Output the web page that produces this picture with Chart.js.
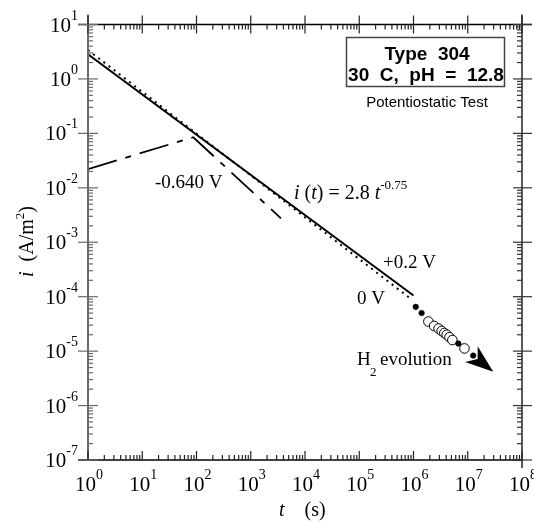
<!DOCTYPE html>
<html>
<head>
<meta charset="utf-8">
<script src="https://cdn.jsdelivr.net/npm/chart.js@4.4.1/dist/chart.umd.min.js"></script>
<style>
    html, body { margin: 0; padding: 0; background: #fff; }
</style>
</head>
<body>
<canvas id="chart" width="534" height="522"></canvas>
<script>
// tick decades
const xExponents = [0, 1, 2, 3, 4, 5, 6, 7, 8];
const yExponents = [-7, -6, -5, -4, -3, -2, -1, 0, 1];
const minorMultiples = [2, 3, 4, 5, 6, 7, 8, 9];

// +0.2 V  (fit i(t) = 2.8 t^-0.75)
const plusTime = [1, 1e6];
const plusCurrent = [2.83, 1.05e-4];

// 0 V
const zeroTime = [1, 8.7e5];
const zeroCurrent = [3.4, 9.3e-5];

// -0.640 V
const minusTime = [1, 87, 3.6e3];
const minusCurrent = [0.022, 0.085, 2.75e-3];

// long term points (H2 evolution)
const filledTime = [1.1e6, 1.41e6, 6.7e6, 1.26e7];
const filledCurrent = [6.5e-5, 5.0e-5, 1.38e-5, 8.3e-6];
const openTime = [1.88e6, 2.4e6, 2.9e6, 3.3e6, 3.7e6, 4.1e6, 4.6e6, 5.2e6, 8.7e6];
const openCurrent = [3.5e-5, 2.9e-5, 2.6e-5, 2.35e-5, 2.15e-5, 2.0e-5, 1.8e-5, 1.6e-5, 1.12e-5];

// arrow
const arrowTail = [1.3e7, 8.1e-6];
const arrowTip = [2.95e7, 4.2e-6];

const SERIF = '"Liberation Serif", "Times New Roman", serif';
const SANS = '"Liberation Sans", Arial, sans-serif';

function toPoints(xs, ys) {
    return xs.map((v, i) => ({ x: v, y: ys[i] }));
}

function buildLogTicks(exponents) {
    const ticks = [];
    exponents.forEach((e, i) => {
        ticks.push({ value: Math.pow(10, e), major: true });
        if (i < exponents.length - 1) {
            minorMultiples.forEach(m => ticks.push({ value: m * Math.pow(10, e), major: false }));
        }
    });
    return ticks;
}

// draw a row of text pieces (for superscripts / italics)
function drawRuns(ctx, runs, x, y, align) {
    let total = 0;
    runs.forEach(r => {
        ctx.font = r.font;
        r.w = ctx.measureText(r.text).width;
        total += r.w;
    });
    let cx = x;
    if (align === 'center') cx = x - total / 2;
    if (align === 'right') cx = x - total;
    runs.forEach(r => {
        ctx.font = r.font;
        ctx.fillText(r.text, cx, y + (r.dy || 0));
        cx += r.w;
    });
}

function line(ctx, x1, y1, x2, y2) {
    ctx.beginPath();
    ctx.moveTo(x1, y1);
    ctx.lineTo(x2, y2);
    ctx.stroke();
}

const framePlugin = {
    id: 'framePlugin',
    afterDraw(chart) {
        const ctx = chart.ctx;
        const xs = chart.scales.x;
        const ys = chart.scales.y;
        const left = xs.getPixelForValue(xs.min);
        const right = xs.getPixelForValue(xs.max);
        const top = ys.getPixelForValue(ys.max);
        const bottom = ys.getPixelForValue(ys.min);

        ctx.save();
        ctx.textAlign = 'left';
        ctx.textBaseline = 'alphabetic';
        ctx.fillStyle = '#000';

        // arrow for H2 evolution
        const ax = xs.getPixelForValue(arrowTip[0]);
        const ay = ys.getPixelForValue(arrowTip[1]);
        const bx = xs.getPixelForValue(arrowTail[0]);
        const by = ys.getPixelForValue(arrowTail[1]);
        const ang = Math.atan2(ay - by, ax - bx);
        ctx.save();
        ctx.translate(ax, ay);
        ctx.rotate(ang);
        ctx.beginPath();
        ctx.moveTo(0, 0);
        ctx.lineTo(-28, -10);
        ctx.lineTo(-20, 0);
        ctx.lineTo(-28, 10);
        ctx.closePath();
        ctx.fill();
        ctx.restore();

        // axes lines
        ctx.lineCap = 'butt';
        ctx.strokeStyle = '#000';
        ctx.lineWidth = 1.3;
        line(ctx, left - 10, top, right + 10, top);
        line(ctx, left - 10, bottom, right + 1, bottom);
        line(ctx, right, top - 10, right, bottom + 8);
        ctx.strokeStyle = '#6a6a6a';
        ctx.lineWidth = 2;
        line(ctx, left, top - 10, left, bottom);

        // x ticks (bottom + top)
        ctx.lineWidth = 1.2;
        ctx.strokeStyle = '#222';
        buildLogTicks(xExponents).forEach(t => {
            const px = xs.getPixelForValue(t.value);
            if (t.major) {
                line(ctx, px, bottom, px, bottom - 9);
                line(ctx, px, top - 9, px, top + 9);
            } else {
                line(ctx, px, bottom, px, bottom - 5);
                line(ctx, px, top, px, top + 5);
            }
        });
        // y ticks (left + right)
        buildLogTicks(yExponents).forEach(t => {
            const py = ys.getPixelForValue(t.value);
            ctx.strokeStyle = '#6a6a6a';
            if (t.major) {
                line(ctx, left - 10, py, left + 10, py);
            } else {
                line(ctx, left, py, left + 5, py);
            }
            ctx.strokeStyle = '#333';
            if (t.major) {
                line(ctx, right - 9, py, right + 10, py);
            } else {
                line(ctx, right - 5, py, right, py);
            }
        });

        // tick labels
        xExponents.forEach(e => {
            const px = xs.getPixelForValue(Math.pow(10, e));
            drawRuns(ctx, [
                { text: '10', font: `21px ${SERIF}` },
                { text: String(e), font: `14px ${SERIF}`, dy: -12 }
            ], px + 1, bottom + 31, 'center');
        });
        yExponents.forEach(e => {
            const py = ys.getPixelForValue(Math.pow(10, e));
            drawRuns(ctx, [
                { text: '10', font: `21px ${SERIF}` },
                { text: String(e), font: `14px ${SERIF}`, dy: -12 }
            ], left - 10, py + 7, 'right');
        });

        // axis titles
        drawRuns(ctx, [
            { text: 't', font: `italic 20px ${SERIF}` },
            { text: '    (s)', font: `20px ${SERIF}` }
        ], 279, 516, 'left');

        ctx.save();
        ctx.translate(33, 277);
        ctx.rotate(-Math.PI / 2);
        drawRuns(ctx, [
            { text: 'i', font: `italic 20px ${SERIF}` },
            { text: '  (A/m', font: `20px ${SERIF}` },
            { text: '2', font: `13px ${SERIF}`, dy: -9 },
            { text: ')', font: `20px ${SERIF}` }
        ], 0, 0, 'left');
        ctx.restore();

        // annotations
        drawRuns(ctx, [{ text: '-0.640 V', font: `19px ${SERIF}` }], 155, 188, 'left');
        drawRuns(ctx, [
            { text: 'i', font: `italic 20px ${SERIF}` },
            { text: ' (', font: `20px ${SERIF}` },
            { text: 't', font: `italic 20px ${SERIF}` },
            { text: ') = 2.8 ', font: `20px ${SERIF}` },
            { text: 't', font: `italic 20px ${SERIF}` },
            { text: '-0.75', font: `13px ${SERIF}`, dy: -10 }
        ], 294, 199, 'left');
        drawRuns(ctx, [{ text: '+0.2 V', font: `19px ${SERIF}` }], 383, 268, 'left');
        drawRuns(ctx, [{ text: '0 V', font: `19px ${SERIF}` }], 357, 304, 'left');
        drawRuns(ctx, [{ text: 'H', font: `19px ${SERIF}` }], 357, 365, 'left');
        drawRuns(ctx, [{ text: '2', font: `13px ${SERIF}` }], 370, 376, 'left');
        drawRuns(ctx, [{ text: 'evolution', font: `19px ${SERIF}` }], 380, 365, 'left');

        // legend box
        ctx.strokeStyle = '#444';
        ctx.lineWidth = 1.5;
        ctx.strokeRect(346.5, 37.5, 158, 49);
        drawRuns(ctx, [{ text: 'Type  304', font: `bold 19px ${SANS}` }], 427, 60, 'center');
        drawRuns(ctx, [{ text: '30  C,  pH  =  12.8', font: `bold 19px ${SANS}` }], 426, 81, 'center');
        drawRuns(ctx, [{ text: 'Potentiostatic Test', font: `15px ${SANS}` }], 427, 107, 'center');

        ctx.restore();
    }
};

new Chart(document.getElementById('chart'), {
    type: 'scatter',
    data: {
        datasets: [
            {
                label: 'filled',
                data: toPoints(filledTime, filledCurrent),
                showLine: false,
                pointRadius: 2.8,
                pointBackgroundColor: '#000',
                pointBorderColor: '#000',
                pointBorderWidth: 0.5,
                order: 1
            },
            {
                label: 'open',
                data: toPoints(openTime, openCurrent),
                showLine: false,
                pointRadius: 4.8,
                pointBackgroundColor: '#fff',
                pointBorderColor: '#000',
                pointBorderWidth: 1,
                order: 2
            },
            {
                label: '+0.2 V',
                data: toPoints(plusTime, plusCurrent),
                showLine: true,
                borderColor: '#000',
                borderWidth: 2,
                pointRadius: 0,
                order: 3
            },
            {
                label: '0 V',
                data: toPoints(zeroTime, zeroCurrent),
                showLine: true,
                borderColor: '#000',
                borderWidth: 2,
                borderDash: [2, 4.5],
                pointRadius: 0,
                order: 4
            },
            {
                label: '-0.640 V',
                data: toPoints(minusTime, minusCurrent),
                showLine: true,
                borderColor: '#000',
                borderWidth: 1.8,
                borderDash: [30, 9, 6, 9],
                pointRadius: 0,
                order: 5
            }
        ]
    },
    options: {
        responsive: false,
        animation: false,
        devicePixelRatio: 1,
        layout: { padding: { left: 88, right: 12, top: 24.5, bottom: 62 } },
        plugins: { legend: { display: false }, tooltip: { enabled: false } },
        scales: {
            x: {
                type: 'logarithmic',
                display: false,
                min: 1,
                max: 1e8
            },
            y: {
                type: 'logarithmic',
                display: false,
                min: 1e-7,
                max: 10
            }
        }
    },
    plugins: [framePlugin]
});
</script>
</body>
</html>
